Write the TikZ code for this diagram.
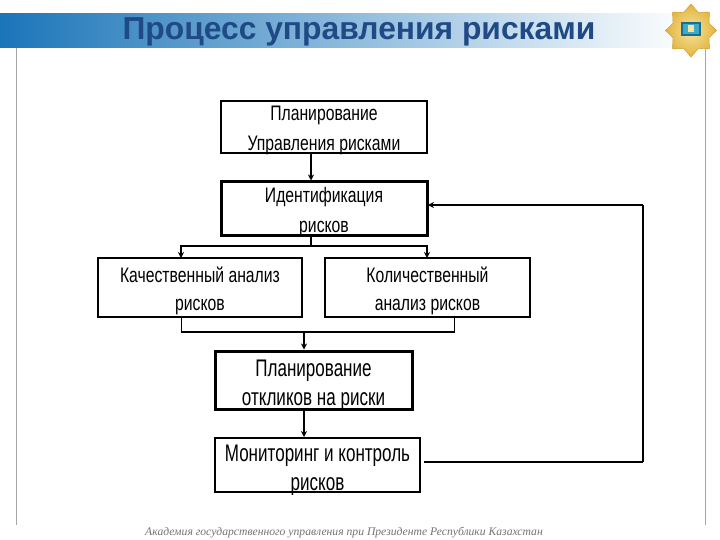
\documentclass[tikz,border=0pt]{standalone}
\usepackage{fontspec}
\setmainfont{Liberation Sans}
\newfontfamily\narrowfont[FakeStretch=0.75]{Liberation Sans}
\newfontfamily\tallfont[FakeStretch=0.71]{Liberation Sans}
\newfontfamily\footfont{Liberation Serif}
\usetikzlibrary{arrows.meta,calc}
\definecolor{titleblue}{HTML}{1F4A86}
\definecolor{bandblue}{HTML}{1B75B9}
\definecolor{gold}{HTML}{E3B43C}
\definecolor{goldlight}{HTML}{F6E3A0}
\definecolor{goldedge}{HTML}{C9982A}
\definecolor{booksky}{HTML}{3FA9C9}
\definecolor{bookdark}{HTML}{1B6E8C}
\newcommand\lifted[1]{\rule{0pt}{#1}}
\tikzset{
  stepbox/.style={draw=black,rectangle,align=center,inner xsep=0pt,inner ysep=-10pt,font=\narrowfont\fontsize{21}{30}\selectfont},
  tallbox/.style={stepbox,font=\tallfont\fontsize{24}{29.5}\selectfont},
  conn/.style={draw=black,line width=1.5pt},
  thinconn/.style={draw=black,line width=1pt},
  arr/.style={conn,-{Stealth[length=6pt,width=6pt]}},
}
\begin{document}
\begin{tikzpicture}[x=1pt,y=-1pt]
\useasboundingbox (0,0) rectangle (720,540);
\fill[white] (0,0) rectangle (720,540);
% frame lines
\draw[gray!70,line width=0.8pt] (16,48) -- (16,525);
\draw[gray!70,line width=0.8pt] (705,48) -- (705,525);
% band
\shade[left color=bandblue,right color=white,shading angle=90] (0,14) rectangle (690,48);
\node[font=\bfseries\fontsize{31.8}{34}\selectfont,text=titleblue] (title) at (359,31.5) {Процесс управления рисками};
% emblem
\begin{scope}[shift={(691,30.5)}]
\shade[inner color=goldlight,outer color=gold,draw=goldedge,line width=0.4pt]
  (0,-26.5) -- (7.4,-18) -- (18.5,-18.5) -- (18,-7.4) -- (25.5,0) -- (18,7.4) -- (18.5,18.5) -- (7.4,18) -- (0,26.5) -- (-7.4,18) -- (-18.5,18.5) -- (-18,7.4) -- (-25.5,0) -- (-18,-7.4) -- (-18.5,-18.5) -- (-7.4,-18) -- cycle;
\fill[bookdark] (-10,-8) rectangle (10,6);
\fill[booksky] (-8,-6) rectangle (8,4);
\fill[goldlight] (-3,-5) rectangle (3,2);
\end{scope}
% boxes
\node[stepbox,line width=2pt,minimum width=206pt,minimum height=52pt] (plan) at (324,127) {\lifted{21pt}Планирование\\Управления рисками};
\node[stepbox,line width=3pt,minimum width=206pt,minimum height=53pt] (ident) at (324,208.5) {\lifted{23pt}Идентификация\\рисков};
\node[stepbox,line width=2pt,minimum width=204pt,minimum height=59pt,font=\narrowfont\fontsize{21}{28}\selectfont] (qual) at (200,287.5) {\lifted{23pt}Качественный анализ\\рисков};
\node[stepbox,line width=2pt,minimum width=205pt,minimum height=59pt,font=\narrowfont\fontsize{21}{28}\selectfont] (quant) at (427.5,287.5) {\lifted{23pt}Количественный\\анализ рисков};
\node[tallbox,line width=3pt,minimum width=197pt,minimum height=58pt] (resp) at (313.5,380) {\lifted{27pt}Планирование\\откликов на риски};
\node[tallbox,line width=2pt,minimum width=205pt,minimum height=54pt] (mon) at (317.5,465) {\lifted{27pt}Мониторинг и контроль\\рисков};
% junction coordinates
\coordinate (ja) at (311,246);
\coordinate (jb) at (304,332);
\coordinate (mr) at (643,462);
\coordinate (mt) at (643,205);
% connectors
\draw[arr] (plan.south -| ja) -- (ident.north -| ja);
\draw[conn] (ident.south -| ja) -- (ja);
\draw[arr] (ja) -| (181,258);
\draw[arr] (ja) -| (427,258);
\draw[thinconn] (181,317) -- (181,332);
\draw[thinconn] (454,317) -- (454,332);
\draw[conn,line width=2.2pt] (180.5,332) -- (454.5,332);
\draw[arr] (jb) -- (resp.north -| jb);
\draw[arr] (resp.south -| jb) -- (mon.north -| jb);
\draw[conn,line width=2pt] (424,462) -- (mr);
\draw[conn] (mr) -- (mt);
\draw[arr] (mt) -- (428,205);
% footer
\node[font=\footfont\itshape\fontsize{11.65}{14}\selectfont,text=black!55] (foot) at (344,533) {Академия государственного управления при Президенте Республики Казахстан};
\end{tikzpicture}
\end{document}
